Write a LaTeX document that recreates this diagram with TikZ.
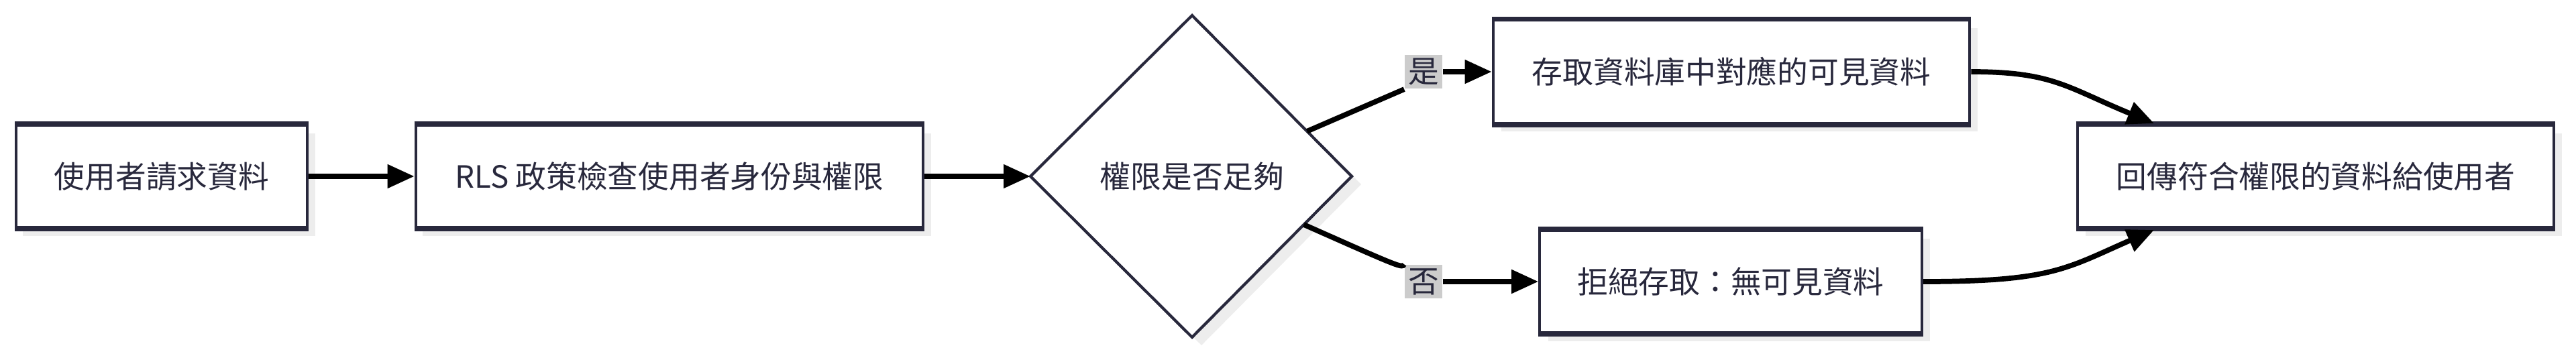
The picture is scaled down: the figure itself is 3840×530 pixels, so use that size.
\documentclass[tikz,border=0pt]{standalone}
\usepackage{fontspec}
\setmainfont{Noto Sans CJK TC}
\usetikzlibrary{arrows.meta,positioning,calc}
\definecolor{ink}{HTML}{28283C}
\tikzset{
  flowbox/.style={draw=ink,line width=1.2pt,fill=white,font=\fontsize{13}{15}\selectfont,text=ink,
    inner sep=0pt,
    append after command={
      \pgfextra{\draw[ink,line width=1.9pt] (\tikzlastnode.north west) -- (\tikzlastnode.north east);
                \draw[ink,line width=1.9pt] (\tikzlastnode.south west) -- (\tikzlastnode.south east);}}},
  choice/.style={draw=ink,line width=1.2pt,fill=white},
  tag/.style={fill=black!20,font=\fontsize{13}{15}\selectfont,text=ink,inner sep=1.5pt},
  link/.style={line width=2.2pt,-{Triangle[length=4mm,width=3.4mm]}}
}
\begin{document}
\begin{tikzpicture}[x=0.01cm,y=-0.01cm]
\useasboundingbox (0,0) rectangle (3840,530);
% shadows
\fill[black!7] (34,199) rectangle (470,352);
\fill[black!7] (630,199) rectangle (1388,352);
\fill[black!7] (2238,42) rectangle (2948,196);
\fill[black!7] (2308,356) rectangle (2877,509);
\fill[black!7] (3109,199) rectangle (3819,352);
\fill[black!7] (1791,35) -- (2029,275) -- (1791,515) -- (1550,275) -- cycle;
% boxes
\node[flowbox,minimum width=4.33cm,minimum height=1.53cm] (req) at (241,263) {使用者請求資料};
\node[flowbox,minimum width=7.56cm,minimum height=1.53cm] (rls) at (998,263) {RLS 政策檢查使用者身份與權限};
\draw[choice] (1777,23) coordinate (top) -- (2015,263) coordinate (east) -- (1777,503) coordinate (bottom) -- (1536,263) coordinate (west) -- cycle;
\node[font=\fontsize{13}{15}\selectfont,text=ink] (ok) at (1777,263) {權限是否足夠};
\node[flowbox,minimum width=7.10cm,minimum height=1.54cm] (acc) at (2581,107) {存取資料庫中對應的可見資料};
\node[flowbox,minimum width=5.69cm,minimum height=1.53cm] (deny) at (2580,420) {拒絕存取：無可見資料};
\node[flowbox,minimum width=7.10cm,minimum height=1.53cm] (ret) at (3452,263) {回傳符合權限的資料給使用者};
% connectors
\draw[link] (req.east) -- (rls.west);
\draw[link] (rls.east) -- (west);
\node[tag] (yes) at (2122,107) {是};
\node[tag] (no) at (2122,420) {否};
\draw[line width=2.2pt] ($(top)!0.72!(east)$) -- (yes.south west);
\draw[link] (yes.east) -- (acc.west);
\draw[line width=2.2pt] ($(east)!0.3!(bottom)$) .. controls (2090,400) .. (no.north west);
\draw[link] (no.east) .. controls (2200,420) .. (deny.west);
\draw[link] (acc.east) .. controls (3060,107) and (3080,130) .. (3211,184);
\draw[link] (deny.east) .. controls (3060,420) and (3080,400) .. (3211,343);
\end{tikzpicture}
\end{document}
